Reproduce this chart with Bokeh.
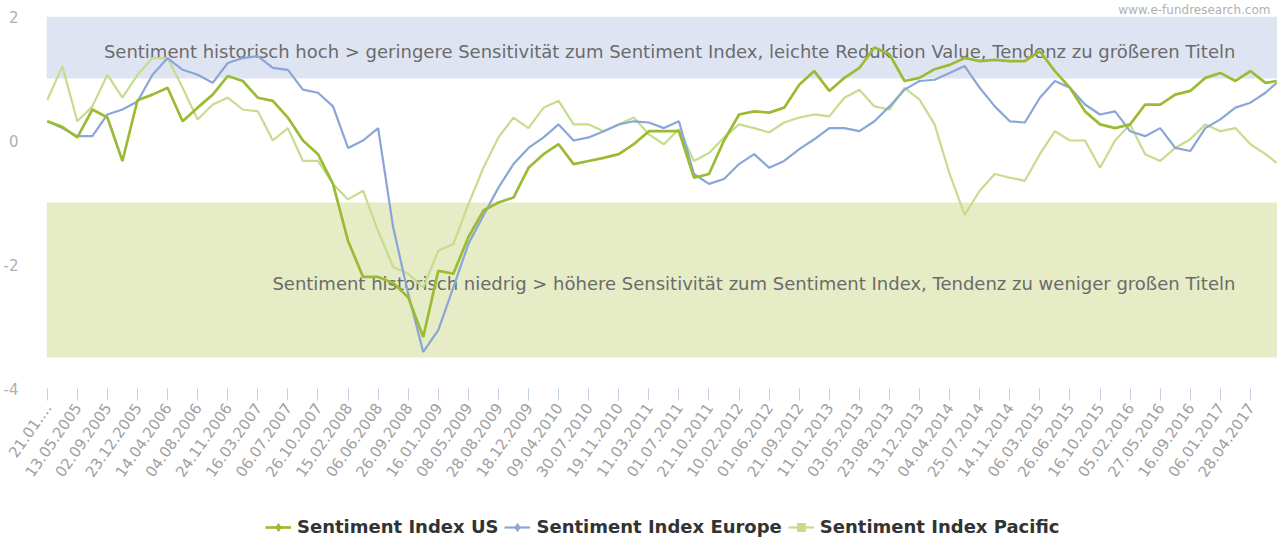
from bokeh.plotting import figure
from bokeh.layouts import column
from bokeh.models import FixedTicker, Legend, LegendItem, Range1d
from bokeh.core.properties import value
from bokeh.embed import file_html
from bokeh.resources import INLINE

# weeks since 21.01.2005 (sampled every 8 weeks, last point mid-Aug 2017)
weeks = list(range(0, 649, 8)) + [654]

us = [0.31, 0.22, 0.05, 0.50, 0.37, -0.33, 0.65, 0.74, 0.85, 0.31,
      0.53, 0.74, 1.04, 0.96, 0.69, 0.64, 0.37, 0.00, -0.22, -0.70,
      -1.62, -2.20, -2.20, -2.30, -2.53, -3.17, -2.10, -2.15, -1.56, -1.13,
      -1.00, -0.92, -0.44, -0.22, -0.06, -0.38, -0.33, -0.28, -0.22, -0.06,
      0.15, 0.15, 0.15, -0.60, -0.54, 0.00, 0.42, 0.47, 0.45, 0.53,
      0.90, 1.12, 0.80, 1.01, 1.17, 1.50, 1.39, 0.96, 1.01, 1.15,
      1.22, 1.33, 1.28, 1.30, 1.28, 1.28, 1.44, 1.12, 0.85, 0.47,
      0.26, 0.20, 0.26, 0.58, 0.58, 0.74, 0.80, 1.01, 1.09, 0.96,
      1.12, 0.93, 0.96]

europe = [0.31, 0.20, 0.07, 0.07, 0.42, 0.50, 0.63, 1.06, 1.33, 1.14,
          1.06, 0.93, 1.25, 1.33, 1.36, 1.17, 1.14, 0.82, 0.77, 0.55,
          -0.12, 0.00, 0.20, -1.40, -2.47, -3.41, -3.06, -2.37, -1.67, -1.21,
          -0.76, -0.38, -0.12, 0.05, 0.26, 0.00, 0.05, 0.15, 0.26, 0.31,
          0.29, 0.20, 0.31, -0.54, -0.70, -0.62, -0.38, -0.22, -0.44, -0.33,
          -0.14, 0.02, 0.20, 0.20, 0.15, 0.31, 0.55, 0.82, 0.96, 0.98,
          1.09, 1.20, 0.85, 0.55, 0.31, 0.29, 0.69, 0.96, 0.85, 0.58,
          0.42, 0.47, 0.15, 0.07, 0.20, -0.12, -0.17, 0.20, 0.34, 0.53,
          0.61, 0.77, 0.93]

pacific = [0.65, 1.20, 0.31, 0.55, 1.06, 0.69, 1.06, 1.33, 1.33, 0.85,
           0.34, 0.58, 0.69, 0.50, 0.47, 0.00, 0.20, -0.33, -0.33, -0.70,
           -0.95, -0.81, -1.46, -2.04, -2.15, -2.37, -1.78, -1.67, -1.03, -0.44,
           0.05, 0.37, 0.20, 0.53, 0.64, 0.26, 0.26, 0.15, 0.26, 0.37,
           0.10, -0.06, 0.18, -0.33, -0.20, 0.05, 0.26, 0.20, 0.13, 0.29,
           0.37, 0.42, 0.39, 0.69, 0.82, 0.55, 0.50, 0.85, 0.66, 0.26,
           -0.54, -1.20, -0.81, -0.54, -0.60, -0.65, -0.22, 0.15, 0.00, 0.00,
           -0.44, 0.00, 0.26, -0.22, -0.33, -0.12, 0.02, 0.26, 0.15, 0.20,
           -0.06, -0.22, -0.36]

tick_labels = ["21.01....", "13.05.2005", "02.09.2005", "23.12.2005", "14.04.2006",
               "04.08.2006", "24.11.2006", "16.03.2007", "06.07.2007", "26.10.2007",
               "15.02.2008", "06.06.2008", "26.09.2008", "16.01.2009", "08.05.2009",
               "28.08.2009", "18.12.2009", "09.04.2010", "30.07.2010", "19.11.2010",
               "11.03.2011", "01.07.2011", "21.10.2011", "10.02.2012", "01.06.2012",
               "21.09.2012", "11.01.2013", "03.05.2013", "23.08.2013", "13.12.2013",
               "04.04.2014", "25.07.2014", "14.11.2014", "06.03.2015", "26.06.2015",
               "16.10.2015", "05.02.2016", "27.05.2016", "16.09.2016", "06.01.2017",
               "28.04.2017"]
tick_weeks = [16 * i for i in range(len(tick_labels))]

y_ticks = [-4, -2, 0, 2]
y_labels = ["-4", "-2", "0", "2"]
band_high = [1, 2]
band_low = [-3.5, -1]
text_high = "Sentiment historisch hoch > geringere Sensitivität zum Sentiment Index, leichte Reduktion Value, Tendenz zu größeren Titeln"
text_low = "Sentiment historisch niedrig > höhere Sensitivität zum Sentiment Index, Tendenz zu weniger großen Titeln"
series_names = ["Sentiment Index US", "Sentiment Index Europe", "Sentiment Index Pacific"]
credit = "www.e-fundresearch.com"

FONT = "DejaVu Sans"
X0, X1 = -0.4, 654.4
c_us, c_eu, c_pa = "#9bbb32", "#8aa5d8", "#c7dc8d"

p = figure(width=1277, height=508, x_range=Range1d(X0, X1), y_range=Range1d(-4, 2),
           output_backend="svg", toolbar_location=None,
           min_border_left=46, min_border_right=0, min_border_top=15, min_border_bottom=120)
p.outline_line_color = None
p.grid.visible = False

# source credit, top right
p.title.text = credit
p.title.align = "right"
p.title.offset = 7
p.title.standoff = 0
p.title.text_font = FONT
p.title.text_font_size = "12px"
p.title.text_font_style = "normal"
p.title.text_color = "#b0b0b0"

# plot bands
p.quad(left=[X0], right=[X1], bottom=[band_high[0]], top=[band_high[1]],
       fill_color="#dfe4f2", line_color=None)
p.quad(left=[X0], right=[X1], bottom=[band_low[0]], top=[band_low[1]],
       fill_color="#e5ecc6", line_color=None)

# band labels
p.text(x=[632], y=[1.44], text=[text_high], text_align="right", text_baseline="middle",
       text_font=value(FONT), text_font_size="18px", text_color="#6b6b6b")
p.text(x=[632], y=[-2.31], text=[text_low], text_align="right", text_baseline="middle",
       text_font=value(FONT), text_font_size="18px", text_color="#6b6b6b")

p.line(weeks, pacific, line_color=c_pa, line_width=2.2)
p.line(weeks, europe, line_color=c_eu, line_width=2.2)
p.line(weeks, us, line_color=c_us, line_width=2.7)

# axes
p.yaxis.ticker = FixedTicker(ticks=y_ticks)
p.yaxis.major_label_overrides = {t: lab for t, lab in zip(y_ticks, y_labels)}
p.yaxis.axis_line_color = None
p.yaxis.major_tick_line_color = None
p.yaxis.minor_tick_line_color = None
p.yaxis.major_label_text_color = "#b0b0b0"
p.yaxis.major_label_text_font = FONT
p.yaxis.major_label_text_font_size = "15px"
p.yaxis.major_label_standoff = 22

p.xaxis.ticker = FixedTicker(ticks=tick_weeks)
p.xaxis.major_label_overrides = {w: lab for w, lab in zip(tick_weeks, tick_labels)}
p.xaxis.axis_line_color = None
p.xaxis.major_tick_out = 12
p.xaxis.major_tick_in = 0
p.xaxis.major_tick_line_color = "#c0d0e0"
p.xaxis.minor_tick_line_color = None
p.xaxis.major_label_orientation = 0.96
p.xaxis.major_label_text_color = "#a0a0a0"
p.xaxis.major_label_text_font = FONT
p.xaxis.major_label_text_font_size = "15px"
p.xaxis.major_label_standoff = 4

# legend strip
lg = figure(width=1277, height=30, x_range=Range1d(0, 1), y_range=Range1d(0, 1),
            output_backend="svg", toolbar_location=None, min_border=0)
lg.axis.visible = False
lg.grid.visible = False
lg.outline_line_color = None
nan = float("nan")
l_us = lg.line([nan], [nan], line_color=c_us, line_width=2.7)
l_eu = lg.line([nan], [nan], line_color=c_eu, line_width=2.2)
l_pa = lg.line([nan], [nan], line_color=c_pa, line_width=2.2)
m_us = lg.scatter([nan], [nan], marker="diamond", size=13, color=c_us)
m_eu = lg.scatter([nan], [nan], marker="diamond", size=9, color=c_eu)
m_pa = lg.scatter([nan], [nan], marker="square", size=10, color=c_pa)
legend = Legend(items=[LegendItem(label=series_names[0], renderers=[l_us, m_us]),
                       LegendItem(label=series_names[1], renderers=[l_eu, m_eu]),
                       LegendItem(label=series_names[2], renderers=[l_pa, m_pa])],
                orientation="horizontal", location=(219, 1),
                label_text_font=FONT, label_text_font_style="bold",
                label_text_font_size="18px", label_text_color="#333333",
                glyph_width=26, label_standoff=6, spacing=6, padding=2, margin=0,
                border_line_color=None, background_fill_alpha=0)
lg.add_layout(legend)

open("out.html", "w").write(file_html(column(p, lg, spacing=0), INLINE))
